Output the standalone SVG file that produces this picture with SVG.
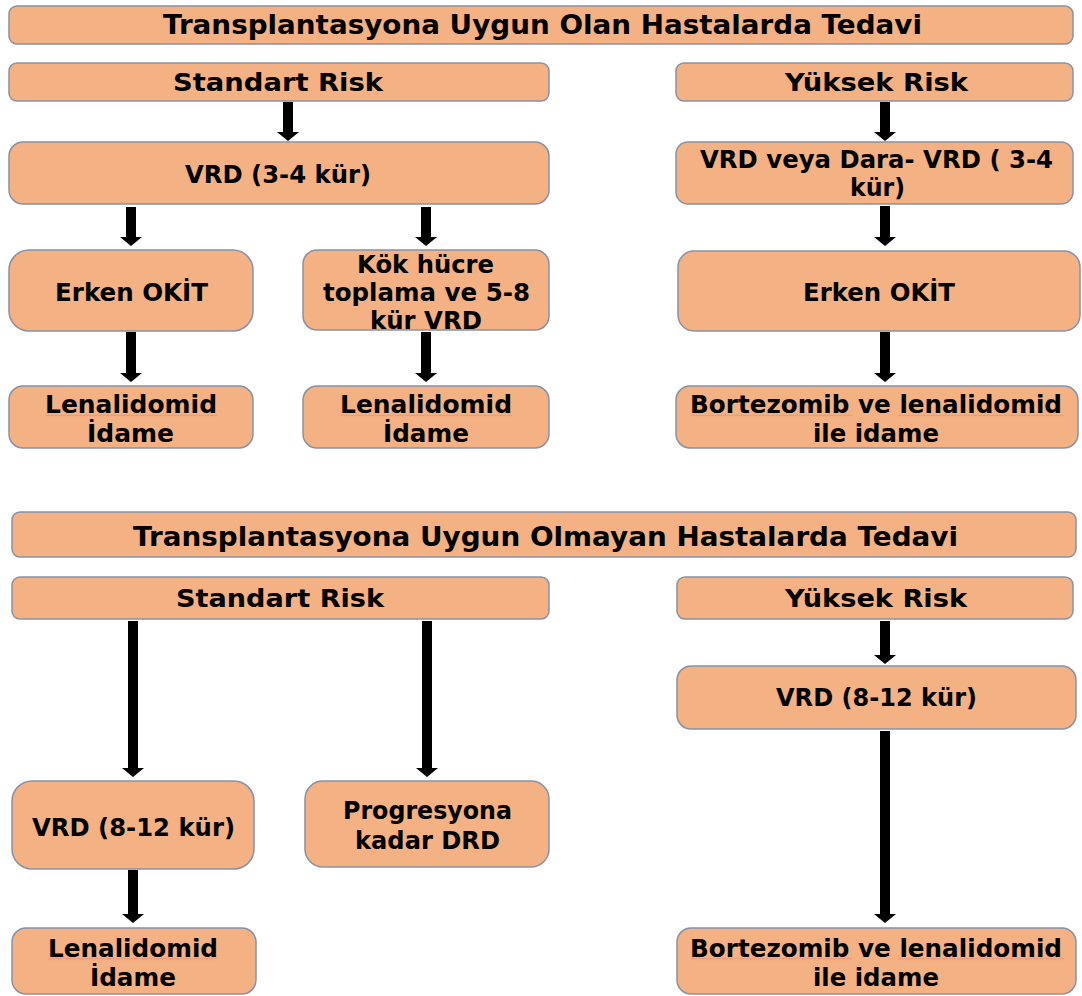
<svg xmlns="http://www.w3.org/2000/svg" width="1082" height="996" viewBox="0 0 1082 996">
<style>
.b{fill:#F4B183;stroke:#8692a6;stroke-width:1.5}
.t{font-family:"DejaVu Sans","Verdana",sans-serif;font-weight:bold;font-size:25px;fill:#000;text-anchor:middle}
.h1{font-size:26px}
.h2{font-size:27px}
.a{fill:#000}
</style>
<defs>
<pattern id="sq" width="4" height="3" patternUnits="userSpaceOnUse">
<path d="M0,2 L1,0.8 L3,2.2 L4,1" fill="none" stroke="#f07070" stroke-width="0.6" stroke-opacity="0.8"/>
</pattern>
</defs>
<rect width="1082" height="996" fill="#fff"/>

<g id="connectors">
<polygon class="a" points="283,102 293,102 293,132 299,132 288,141 277,132 283,132"/>
<polygon class="a" points="126,207 136,207 136,237 142,237 131,246 120,237 126,237"/>
<polygon class="a" points="421,207 431,207 431,237 437,237 426,246 415,237 421,237"/>
<polygon class="a" points="126,332 136,332 136,373 142,373 131,382 120,373 126,373"/>
<polygon class="a" points="421,332 431,332 431,373 437,373 426,382 415,373 421,373"/>
<polygon class="a" points="880,102 890,102 890,132 896,132 885,141 874,132 880,132"/>
<polygon class="a" points="880,206 890,206 890,237 896,237 885,246 874,237 880,237"/>
<polygon class="a" points="880,332 890,332 890,373 896,373 885,382 874,373 880,373"/>
<polygon class="a" points="128,621 138,621 138,768 144,768 133,777 122,768 128,768"/>
<polygon class="a" points="422,621 432,621 432,768 438,768 427,777 416,768 422,768"/>
<polygon class="a" points="880,621 890,621 890,655 896,655 885,664 874,655 880,655"/>
<polygon class="a" points="880,731 890,731 890,914 896,914 885,923 874,914 880,914"/>
<polygon class="a" points="128,870 138,870 138,914 144,914 133,923 122,914 128,914"/>
</g>

<g id="title1"><rect class="b" x="9" y="6" width="1064" height="38" rx="8"/>
<text class="t h1" x="542.5" y="34" textLength="759" lengthAdjust="spacingAndGlyphs">Transplantasyona Uygun Olan Hastalarda Tedavi</text></g>

<g id="std1"><rect class="b" x="9" y="63" width="540" height="38" rx="8"/>
<text class="t" x="278" y="91" textLength="210" lengthAdjust="spacingAndGlyphs">Standart Risk</text></g>

<g id="yuk1"><rect class="b" x="676" y="63" width="397" height="38" rx="8"/>
<text class="t" x="876.5" y="91" textLength="183" lengthAdjust="spacingAndGlyphs">Yüksek Risk</text></g>

<g id="vrd34"><rect class="b" x="9" y="142" width="540" height="62" rx="14"/>
<text class="t" x="278" y="183" textLength="186" lengthAdjust="spacingAndGlyphs">VRD (3-4 kür)</text></g>

<g id="vrddara"><rect class="b" x="676" y="142" width="397" height="62" rx="12"/>
<text class="t" x="876.5" y="168" textLength="353" lengthAdjust="spacingAndGlyphs">VRD veya Dara- VRD ( 3-4</text>
<text class="t" x="877.5" y="196" textLength="55" lengthAdjust="spacingAndGlyphs">kür)</text></g>

<g id="okit1"><rect class="b" x="9" y="250" width="244" height="81" rx="20"/>
<text class="t" x="131.5" y="301" textLength="153" lengthAdjust="spacingAndGlyphs">Erken OKİT</text></g>

<g id="kok"><rect class="b" x="303" y="250" width="246" height="80" rx="14"/>
<text class="t" x="425.5" y="273" textLength="137" lengthAdjust="spacingAndGlyphs">Kök hücre</text>
<text class="t" x="426.5" y="301" textLength="207" lengthAdjust="spacingAndGlyphs">toplama ve 5-8</text>
<text class="t" x="426" y="329" textLength="112" lengthAdjust="spacingAndGlyphs">kür VRD</text></g>

<g id="okit2"><rect class="b" x="678" y="251" width="402" height="80" rx="16"/>
<text class="t" x="879" y="301" textLength="152" lengthAdjust="spacingAndGlyphs">Erken OKİT</text></g>

<g id="len1"><rect class="b" x="9" y="386" width="244" height="62" rx="14"/>
<text class="t" x="131" y="413" textLength="172" lengthAdjust="spacingAndGlyphs">Lenalidomid</text>
<rect x="45" y="413.5" width="172" height="3" fill="url(#sq)"/>
<text class="t" x="130.5" y="442" textLength="87" lengthAdjust="spacingAndGlyphs">İdame</text></g>

<g id="len2"><rect class="b" x="303" y="386" width="246" height="62" rx="14"/>
<text class="t" x="426" y="413" textLength="172" lengthAdjust="spacingAndGlyphs">Lenalidomid</text>
<rect x="340" y="413.5" width="172" height="3" fill="url(#sq)"/>
<text class="t" x="426" y="442" textLength="86" lengthAdjust="spacingAndGlyphs">İdame</text></g>

<g id="bort1"><rect class="b" x="676" y="386" width="402" height="62" rx="14"/>
<text class="t" x="876" y="413" textLength="372" lengthAdjust="spacingAndGlyphs">Bortezomib ve lenalidomid</text>
<rect x="691" y="413.5" width="161" height="3" fill="url(#sq)"/>
<rect x="898" y="413.5" width="166" height="3" fill="url(#sq)"/>
<text class="t" x="876" y="442" textLength="126" lengthAdjust="spacingAndGlyphs">ile idame</text></g>

<g id="title2"><rect class="b" x="12" y="512" width="1064" height="45" rx="8"/>
<text class="t h2" x="545.5" y="546" textLength="825" lengthAdjust="spacingAndGlyphs">Transplantasyona Uygun Olmayan Hastalarda Tedavi</text></g>

<g id="std2"><rect class="b" x="12" y="577" width="537" height="42" rx="8"/>
<text class="t" x="280" y="607" textLength="208" lengthAdjust="spacingAndGlyphs">Standart Risk</text></g>

<g id="yuk2"><rect class="b" x="677" y="577" width="396" height="42" rx="8"/>
<text class="t" x="876" y="607" textLength="182" lengthAdjust="spacingAndGlyphs">Yüksek Risk</text></g>

<g id="vrd812r"><rect class="b" x="677" y="666" width="399" height="63" rx="14"/>
<text class="t" x="876.5" y="706" textLength="201" lengthAdjust="spacingAndGlyphs">VRD (8-12 kür)</text></g>

<g id="vrd812l"><rect class="b" x="12" y="781" width="242" height="88" rx="20"/>
<text class="t" x="133.5" y="836" textLength="203" lengthAdjust="spacingAndGlyphs">VRD (8-12 kür)</text></g>

<g id="prog"><rect class="b" x="305" y="781" width="244" height="86" rx="18"/>
<text class="t" x="427.5" y="819" textLength="169" lengthAdjust="spacingAndGlyphs">Progresyona</text>
<text class="t" x="427.5" y="849" textLength="145" lengthAdjust="spacingAndGlyphs">kadar DRD</text></g>

<g id="len3"><rect class="b" x="12" y="928" width="244" height="66" rx="14"/>
<text class="t" x="133" y="957" textLength="170" lengthAdjust="spacingAndGlyphs">Lenalidomid</text>
<rect x="48" y="957.5" width="170" height="3" fill="url(#sq)"/>
<text class="t" x="133" y="986" textLength="86" lengthAdjust="spacingAndGlyphs">İdame</text></g>

<g id="bort2"><rect class="b" x="677" y="928" width="399" height="66" rx="14"/>
<text class="t" x="876" y="957" textLength="372" lengthAdjust="spacingAndGlyphs">Bortezomib ve lenalidomid</text>
<rect x="691" y="957.5" width="161" height="3" fill="url(#sq)"/>
<rect x="898" y="957.5" width="166" height="3" fill="url(#sq)"/>
<text class="t" x="876" y="986" textLength="126" lengthAdjust="spacingAndGlyphs">ile idame</text></g>
</svg>
